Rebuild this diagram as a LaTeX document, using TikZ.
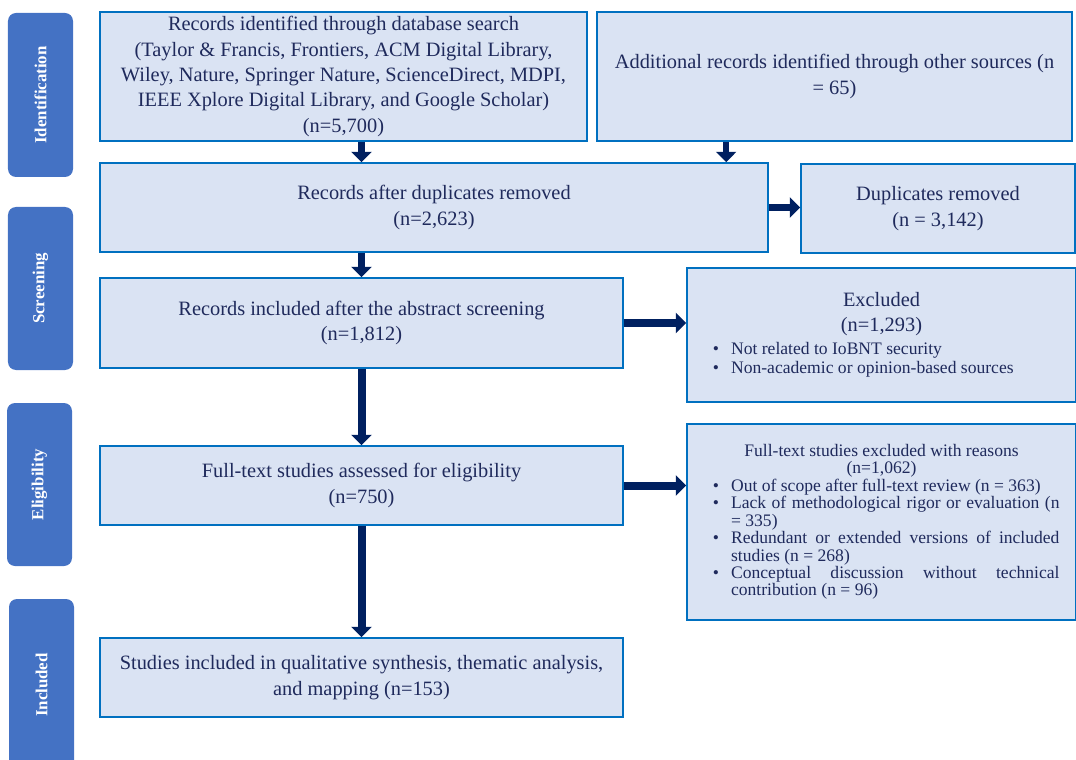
\documentclass[tikz,border=0pt]{standalone}
\usepackage{fontspec}
\setmainfont{Liberation Serif}
\usepackage{enumitem}
\usetikzlibrary{arrows.meta,positioning}

\definecolor{boxfill}{HTML}{DAE3F3}
\definecolor{boxline}{HTML}{0070C0}
\definecolor{stagefill}{HTML}{4472C4}
\definecolor{flowcol}{HTML}{002060}
\definecolor{boxtext}{HTML}{1F2A5C}

\newcommand{\reasonlist}[2][0pt]{%
  \begin{itemize}[leftmargin=0.69cm, labelsep=0.3cm, itemsep=0pt, topsep=#1, parsep=0pt, partopsep=0pt, label={\textbullet}]
  #2
  \end{itemize}}

\begin{document}
\begin{tikzpicture}[
  box/.style={draw=boxline, fill=boxfill, line width=1.2pt, text=boxtext, align=center, inner sep=2pt,
    font=\fontsize{14.5}{18}\selectfont},
  reasonbox/.style={box, align=justify, text width=8.9cm},
  stage/.style={fill=stagefill, rounded corners=0.2cm, text=white, rotate=90, minimum height=1.625cm,
    font=\bfseries\fontsize{12}{14}\selectfont},
  flow/.style={-{Triangle[width=0.5cm,length=0.26cm]}, line width=0.16cm, flowcol}]
\useasboundingbox (0,0) rectangle (26.9,-19);

\node[stage, minimum width=4.1cm] (ident) at (1.0125,-2.375) {Identification};
\node[stage, minimum width=4.075cm] (screen) at (1.0125,-7.2125) {Screening};
\node[stage, minimum width=4.075cm] (elig) at (0.9875,-12.1125) {Eligibility};
\node[stage, minimum width=4.3cm] (incl) at (1.0375,-17.125) {Included};

\node[box, minimum width=12.175cm, minimum height=3.225cm] (search) at (8.5875,-1.9125)
  {Records identified through database search\\(Taylor \& Francis, Frontiers, ACM Digital Library,\\Wiley, Nature, Springer Nature, ScienceDirect, MDPI,\\IEEE Xplore Digital Library, and Google Scholar)\\(n=5,700)};
\node[box, minimum width=11.875cm, minimum height=3.225cm] (other) at (20.8625,-1.9125)
  {Additional records identified through other sources (n\\= 65)};
\node[box, minimum width=16.7cm, minimum height=2.225cm] (dedup) at (10.85,-5.1875)
  {Records after duplicates removed\\(n=2,623)};
\node[box, minimum width=6.85cm, minimum height=2.225cm] (dupl) at (23.45,-5.2125)
  {Duplicates removed\\(n = 3,142)};
\node[box, minimum width=13.075cm, minimum height=2.25cm] (abstract) at (9.0375,-8.075)
  {Records included after the abstract screening\\(n=1,812)};
\node[reasonbox, minimum width=9.725cm, minimum height=3.35cm] (excl) at (22.0375,-8.375)
  {{\centering Excluded\\(n=1,293)\par}
   \fontsize{12.5}{13.5}\selectfont
   \reasonlist[3pt]{\item Not related to IoBNT security
   \item Non-academic or opinion-based sources}};
\node[box, minimum width=13.075cm, minimum height=1.975cm] (fulltext) at (9.0375,-12.1375)
  {Full-text studies assessed for eligibility\\(n=750)};
\node[reasonbox, minimum width=9.725cm, minimum height=4.9cm, font=\fontsize{12.5}{12.4}\selectfont] (reasons) at (22.0375,-13.05)
  {{\centering Full-text studies excluded with reasons\\(n=1,062)\par}
   \reasonlist{\item Out of scope after full-text review (n = 363)
   \item Lack of methodological rigor or evaluation (n\linebreak = 335)
   \item Redundant or extended versions of included\linebreak studies (n = 268)
   \item Conceptual discussion without technical\linebreak contribution (n = 96)}};
\node[box, minimum width=13.075cm, minimum height=1.975cm] (final) at (9.0375,-16.9375)
  {Studies included in qualitative synthesis, thematic analysis,\\and mapping (n=153)};

\draw[flow] (search.south -| abstract) -- (dedup.north -| abstract);
\draw[flow] ([xshift=3.25cm]other.south west) -- ([xshift=3.25cm]other.south west |- dedup.north);
\draw[flow] (dedup.east) -- (dedup.east -| dupl.west);
\draw[flow] (dedup.south -| abstract) -- (abstract.north);
\draw[flow, line width=0.2cm] (abstract.east) -- (abstract.east -| excl.west);
\draw[flow, line width=0.2cm] (abstract.south) -- (fulltext.north);
\draw[flow, line width=0.2cm] (fulltext.east) -- (fulltext.east -| reasons.west);
\draw[flow, line width=0.2cm] (fulltext.south) -- (final.north);
\end{tikzpicture}
\end{document}
